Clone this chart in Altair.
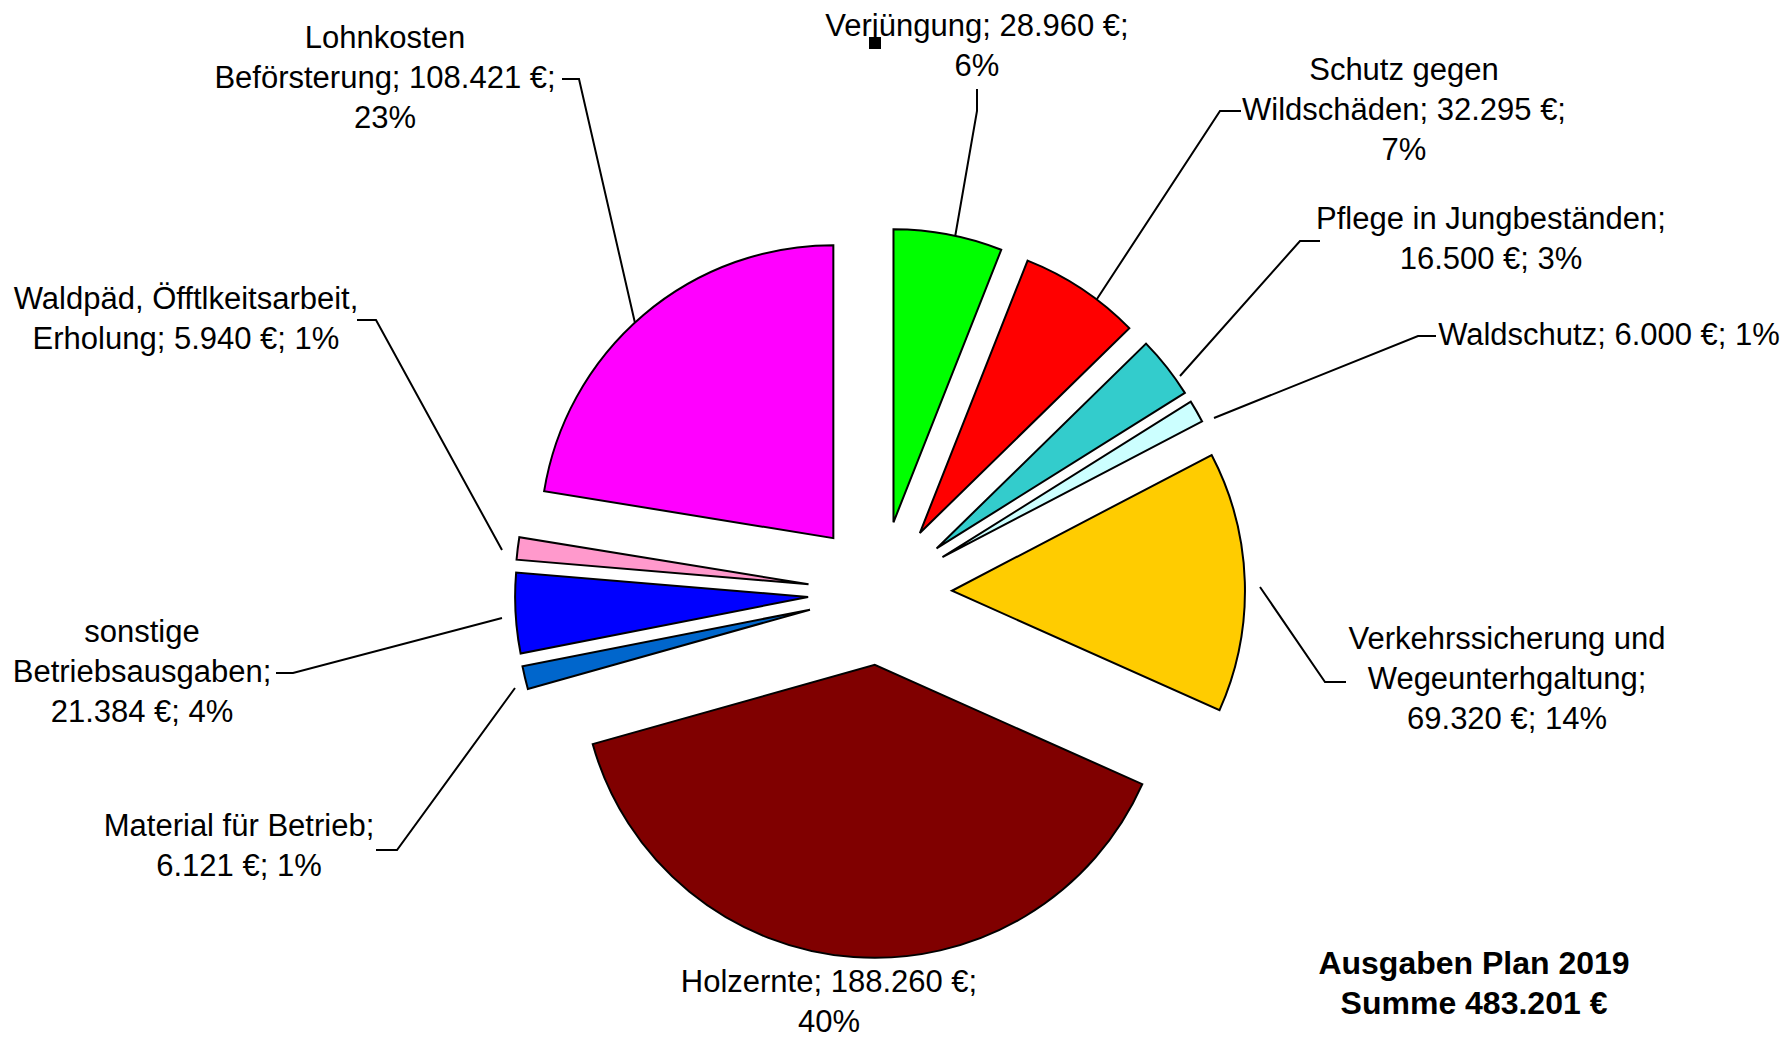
import math
import altair as alt
import pandas as pd

# ---------------- data ----------------
categories = [
    "Verjüngung", "Schutz gegen Wildschäden", "Pflege in Jungbeständen", "Waldschutz",
    "Verkehrssicherung und Wegeunterhgaltung", "Holzernte", "Material für Betrieb",
    "sonstige Betriebsausgaben", "Waldpäd, Öfftlkeitsarbeit, Erholung", "Lohnkosten Beförsterung",
]
values = [28960, 32295, 16500, 6000, 69320, 188260, 6121, 21384, 5940, 108421]
label_lines = [
    ["Verjüngung; 28.960 €;", "6%"],
    ["Schutz gegen", "Wildschäden; 32.295 €;", "7%"],
    ["Pflege in Jungbeständen;", "16.500 €; 3%"],
    ["Waldschutz; 6.000 €; 1%"],
    ["Verkehrssicherung und", "Wegeunterhgaltung;", "69.320 €; 14%"],
    ["Holzernte; 188.260 €;", "40%"],
    ["Material für Betrieb;", "6.121 €; 1%"],
    ["sonstige", "Betriebsausgaben;", "21.384 €; 4%"],
    ["Waldpäd, Öfftlkeitsarbeit,", "Erholung; 5.940 €; 1%"],
    ["Lohnkosten", "Beförsterung; 108.421 €;", "23%"],
]
title_lines = ["Ausgaben Plan 2019", "Summe 483.201 €"]

# ---------------- styles / layout ----------------
colors = ["#00FF00", "#FF0000", "#33CCCC", "#CCFFFF", "#FFCC00",
          "#800000", "#0066CC", "#0000FF", "#FF99CC", "#FF00FF"]
W, H = 1772, 1034
CENTER = (880, 593)      # pie centre (page px)
EXPLODE = 72             # explosion distance
RADIUS = 293
FONT = "Liberation Sans"
FS = 31
LINE_H = 40
# label block centre (x, y of first line)
label_pos = [(977, 27), (1404, 71), (1491, 220), (1609, 336), (1507, 640),
             (829, 983), (239, 827), (142, 633), (186, 300), (385, 39)]
# leader lines (page px), None = no leader
leaders = [
    [(977, 89), (977, 111), (954, 243)],
    [(1241, 111), (1220, 111), (1095, 302)],
    [(1320, 241), (1300, 241), (1180, 376)],
    [(1436, 336), (1418, 336), (1214, 418)],
    [(1346, 682), (1325, 682), (1260, 587)],
    None,
    [(376, 850), (397, 850), (515, 688)],
    [(276, 673), (293, 673), (502, 618)],
    [(357, 320), (376, 320), (502, 550)],
    [(562, 79), (579, 79), (635, 323)],
]
title_pos = (1474, 964)

# ---------------- tables ----------------
total = sum(values)
rows = []
cum = 0.0
for i, (c, v) in enumerate(zip(categories, values)):
    t0 = cum / total * 2 * math.pi
    cum += v
    t1 = cum / total * 2 * math.pi
    mid = (t0 + t1) / 2
    rows.append({
        "cat": c, "value": v, "t0": t0, "t1": t1, "color": colors[i],
        "cx": CENTER[0] + EXPLODE * math.sin(mid),
        "cy": CENTER[1] - EXPLODE * math.cos(mid),
    })
pie_df = pd.DataFrame(rows)

lab_rows = []
for i, lines in enumerate(label_lines):
    x0, y0 = label_pos[i]
    for j, t in enumerate(lines):
        lab_rows.append({"x": x0, "y": y0 + j * LINE_H, "text": t})
lab_df = pd.DataFrame(lab_rows)

lead_rows = []
for i, pts in enumerate(leaders):
    if pts is None:
        continue
    for k, (x, y) in enumerate(pts):
        lead_rows.append({"id": i, "ord": k, "x": x, "y": y})
lead_df = pd.DataFrame(lead_rows)

title_df = pd.DataFrame([{"x": title_pos[0], "y": title_pos[1] + j * LINE_H, "text": t}
                         for j, t in enumerate(title_lines)])

xs = alt.Scale(domain=[8, 8 + W], nice=False, zero=False)
ys = alt.Scale(domain=[8, 8 + H], reverse=True, nice=False, zero=False)

pie = alt.Chart(pie_df).mark_arc(radius=RADIUS, stroke="black", strokeWidth=2).encode(
    x=alt.X("cx:Q", scale=xs, axis=None),
    y=alt.Y("cy:Q", scale=ys, axis=None),
    theta=alt.Theta("t0:Q", scale=None, stack=False),
    theta2="t1:Q",
    fill=alt.Fill("color:N", scale=None),
)

lines = alt.Chart(lead_df).mark_line(color="black", strokeWidth=2).encode(
    x=alt.X("x:Q", scale=xs, axis=None),
    y=alt.Y("y:Q", scale=ys, axis=None),
    detail="id:N",
    order="ord:Q",
)

labels = alt.Chart(lab_df).mark_text(font=FONT, fontSize=FS, align="center",
                                     baseline="middle", color="black").encode(
    x=alt.X("x:Q", scale=xs, axis=None),
    y=alt.Y("y:Q", scale=ys, axis=None),
    text="text:N",
)

title = alt.Chart(title_df).mark_text(font=FONT, fontSize=32, fontWeight="bold",
                                      align="center", baseline="middle", color="black").encode(
    x=alt.X("x:Q", scale=xs, axis=None),
    y=alt.Y("y:Q", scale=ys, axis=None),
    text="text:N",
)

marker = alt.Chart(pd.DataFrame([{"x": 875, "y": 43}])).mark_square(
    size=144, color="black", opacity=1).encode(
    x=alt.X("x:Q", scale=xs, axis=None),
    y=alt.Y("y:Q", scale=ys, axis=None),
)

chart = alt.layer(lines, pie, labels, title, marker).properties(
    width=W, height=H,
    autosize=alt.AutoSizeParams(type="none"),
    padding=0,
    background="white",
).configure_view(stroke=None)

chart.save("out.html", embed_options={"renderer": "svg", "actions": False})
